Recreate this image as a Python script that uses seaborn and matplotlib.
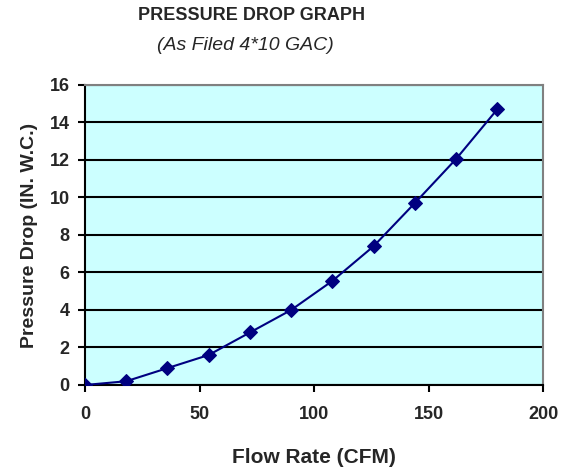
import pandas as pd
import matplotlib
matplotlib.use("Agg")
import matplotlib.pyplot as plt
import seaborn as sns

# values
flow_rate = [0, 18, 36, 54, 72, 90, 108, 126, 144, 162, 180]
pressure_drop = [0, 0.2, 0.9, 1.6, 2.8, 4.0, 5.55, 7.4, 9.7, 12.05, 14.7]
x_ticks = [0, 50, 100, 150, 200]
y_ticks = [0, 2, 4, 6, 8, 10, 12, 14, 16]

df = pd.DataFrame({"Flow Rate (CFM)": flow_rate, "Pressure Drop (IN. W.C.)": pressure_drop})

sns.set_style("white")
plt.rcParams['font.family'] = ['Liberation Sans', 'DejaVu Sans']

fig = plt.figure(figsize=(5.61, 4.67), dpi=100)
ax = fig.add_axes([0.1515, 0.1756, 0.8165, 0.6424])
ax.set_facecolor("#CCFFFF")

sns.lineplot(data=df, x="Flow Rate (CFM)", y="Pressure Drop (IN. W.C.)", ax=ax,
             color="#000080", linewidth=1.5, marker="D", markersize=7,
             markeredgecolor="#000080", zorder=3)

ax.set_xlim(0, 200)
ax.set_ylim(0, 16)
ax.set_xticks(x_ticks)
ax.set_yticks(y_ticks)
ax.yaxis.grid(True, color="black", linewidth=1.5)
ax.xaxis.grid(False)
ax.set_axisbelow(True)

for side in ["top", "right"]:
    ax.spines[side].set_color("#808080")
    ax.spines[side].set_linewidth(1.5)
for side in ["left", "bottom"]:
    ax.spines[side].set_color("black")
    ax.spines[side].set_linewidth(1.5)

ax.tick_params(axis="both", which="major", direction="out", length=5, width=1.5,
               color="black", labelsize=13, pad=6, left=True, bottom=True)
for lab in ax.get_xticklabels() + ax.get_yticklabels():
    lab.set_fontweight("bold")
ax.tick_params(axis="x", pad=10)

ax.set_xlabel("Flow Rate (CFM)", fontsize=15, fontweight="bold", labelpad=18)
ax.set_ylabel("Pressure Drop (IN. W.C.)", fontsize=14, fontweight="bold", labelpad=8)

fig.text(0.449, 0.966, "PRESSURE DROP GRAPH", ha="center", va="center",
         fontsize=13, fontweight="bold")
fig.text(0.437, 0.903, "(As Filed 4*10 GAC)", ha="center", va="center",
         fontsize=14, fontstyle="italic")

fig.savefig("out.png", dpi=100)
